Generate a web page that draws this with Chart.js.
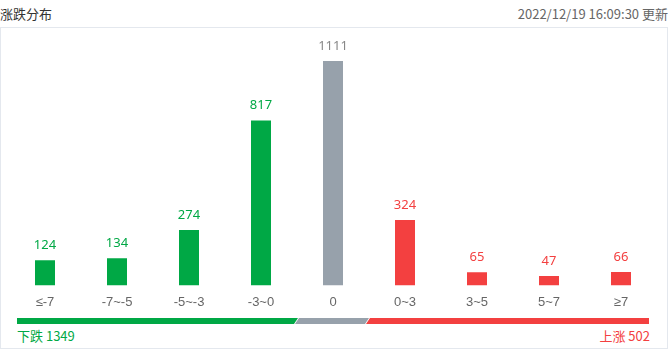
<!DOCTYPE html>
<html>
<head>
<meta charset="utf-8">
<script src="https://cdn.jsdelivr.net/npm/chart.js@4/dist/chart.umd.min.js"></script>
<style>
  body { margin: 0; width: 668px; height: 349px; background: #fff; position: relative; overflow: hidden;
         font-family: "Noto Sans CJK SC", "Noto Sans", sans-serif; }
  .title { position: absolute; left: 0; top: 4px; font-size: 13px; color: #333; }
  .time { position: absolute; right: 0; top: 4px; font-size: 13px; color: #666; }
  .box { position: absolute; left: 0; top: 27px; width: 666px; height: 320px; border: 1px solid #e4e8ee; }
  #chart-wrap { position: absolute; left: 0; top: 0; width: 668px; height: 319px; }
  .seg { position: absolute; top: 318px; height: 6px; }
  .down { background: #00a845; left: 17px; width: 281px; clip-path: polygon(0 0, 100% 0, calc(100% - 4px) 100%, 0 100%); }
  .flat { background: #97a1ab; left: 295px; width: 74px; clip-path: polygon(4px 0, 100% 0, calc(100% - 4px) 100%, 0 100%); }
  .up { background: #f34040; left: 366px; width: 283px; clip-path: polygon(4px 0, 100% 0, 100% 100%, 0 100%); }
  .foot { position: absolute; top: 326px; font-size: 13px; }
  .foot.l { left: 17px; color: #00a845; }
  .foot.r { right: 18px; color: #f34040; }
</style>
</head>
<body>
<div class="title">涨跌分布</div>
<div class="time">2022/12/19 16:09:30 更新</div>
<div class="box"></div>
<div id="chart-wrap"><canvas id="chart"></canvas></div>
<div class="seg down"></div>
<div class="seg flat"></div>
<div class="seg up"></div>
<div class="foot l" id="downText"></div>
<div class="foot r" id="upText"></div>
<script>
const categories = ["≤-7", "-7~-5", "-5~-3", "-3~0", "0", "0~3", "3~5", "5~7", "≥7"];
const counts = [124, 134, 274, 817, 1111, 324, 65, 47, 66];
const downTotal = 1349;
const upTotal = 502;

const zeroIndex = categories.indexOf("0");
const green = '#00a845', grey = '#97a1ab', red = '#f34040';

function colorFor(i) {
  if (i < zeroIndex) return green;
  if (i === zeroIndex) return grey;
  return red;
}

document.getElementById('downText').textContent = '下跌 ' + downTotal;
document.getElementById('upText').textContent = '上涨 ' + upTotal;

// value labels above each bar
const valueLabels = {
  id: 'valueLabels',
  afterDatasetsDraw(chart) {
    const ctx = chart.ctx;
    const meta = chart.getDatasetMeta(0);
    ctx.save();
    ctx.font = '13px "Noto Sans", "Noto Sans CJK SC", sans-serif';
    ctx.textAlign = 'center';
    ctx.textBaseline = 'middle';
    meta.data.forEach((bar, i) => {
      ctx.fillStyle = i === zeroIndex ? '#888' : colorFor(i);
      ctx.fillText(counts[i], bar.x, bar.y - 15);
    });
    ctx.restore();
  }
};

new Chart(document.getElementById('chart'), {
  type: 'bar',
  data: {
    labels: categories,
    datasets: [{
      data: counts,
      backgroundColor: counts.map((v, i) => colorFor(i)),
      barPercentage: 20 / 72,
      categoryPercentage: 1
    }]
  },
  options: {
    responsive: true,
    maintainAspectRatio: false,
    animation: false,
    layout: { padding: { left: 9, right: 11, top: 61, bottom: 0 } },
    plugins: { legend: { display: false }, tooltip: { enabled: false } },
    scales: {
      x: {
        grid: { display: false, drawTicks: false },
        border: { display: false },
        ticks: { color: '#666', padding: 9, maxRotation: 0, autoSkip: false,
                 font: { size: 13, family: '"Liberation Sans", "Noto Sans CJK SC", sans-serif' } }
      },
      y: { display: false, min: 0, max: 1111 }
    }
  },
  plugins: [valueLabels]
});
</script>
</body>
</html>
